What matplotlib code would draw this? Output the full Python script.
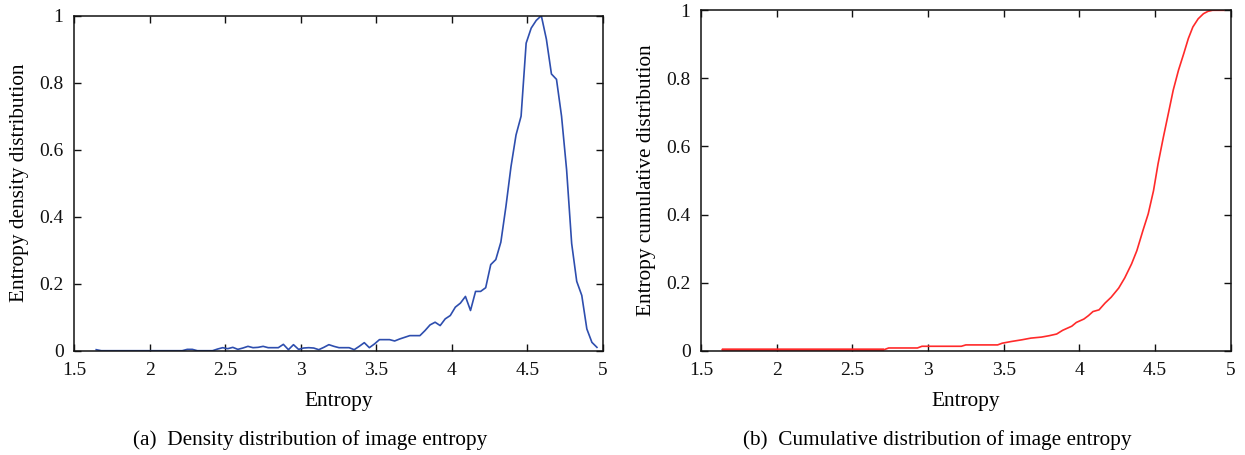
import numpy as np
import matplotlib
matplotlib.use("Agg")
import matplotlib.pyplot as plt
from matplotlib.ticker import FormatStrFormatter, MultipleLocator

plt.rcParams['font.family'] = ['Liberation Serif', 'DejaVu Serif']

# ---- data ----
dens_x_start, dens_x_end, dens_n = 1.647, 4.96, 100
density = [
    0.003, 0, 0, 0, 0, 0, 0, 0, 0, 0,
    0, 0, 0, 0, 0, 0, 0, 0, 0.004, 0.004,
    0, 0, 0, 0, 0.005, 0.009, 0.006, 0.010, 0.004, 0.008,
    0.013, 0.009, 0.010, 0.013, 0.009, 0.009, 0.009, 0.019, 0.003, 0.018,
    0.004, 0.008, 0.009, 0.008, 0.003, 0.010, 0.018, 0.013, 0.009, 0.009,
    0.009, 0.003, 0.013, 0.024, 0.009, 0.020, 0.033, 0.033, 0.033, 0.029,
    0.035, 0.040, 0.045, 0.045, 0.045, 0.060, 0.077, 0.085, 0.075, 0.095,
    0.105, 0.130, 0.142, 0.162, 0.120, 0.177, 0.177, 0.188, 0.257, 0.272,
    0.324, 0.430, 0.549, 0.644, 0.700, 0.918, 0.963, 0.986, 1.000, 0.930,
    0.826, 0.810, 0.700, 0.540, 0.320, 0.207, 0.165, 0.065, 0.025, 0.010,
]
density_x = np.linspace(dens_x_start, dens_x_end, dens_n)

cum_x = [1.64, 2.71, 2.74, 2.93, 2.96, 3.22, 3.25, 3.46, 3.49, 3.55, 3.62, 3.68,
         3.75, 3.80, 3.85, 3.89, 3.95, 3.98, 4.03, 4.06, 4.09, 4.13, 4.17, 4.21,
         4.26, 4.30, 4.345, 4.38, 4.42, 4.455, 4.49, 4.52, 4.555, 4.59, 4.62,
         4.655, 4.69, 4.72, 4.75, 4.785, 4.82, 4.85, 4.88, 4.955]
cum_y = [0.003, 0.003, 0.008, 0.008, 0.013, 0.013, 0.017, 0.017, 0.022, 0.027,
         0.032, 0.037, 0.040, 0.044, 0.049, 0.060, 0.072, 0.083, 0.093, 0.103,
         0.115, 0.120, 0.140, 0.157, 0.184, 0.214, 0.255, 0.294, 0.353, 0.402,
         0.470, 0.549, 0.627, 0.701, 0.765, 0.824, 0.873, 0.917, 0.951, 0.975,
         0.990, 0.997, 1.000, 1.000]

xlabel = "Entropy"
ylabels = ["Entropy density distribution", "Entropy cumulative distribution"]
captions = ["(a)  Density distribution of image entropy",
            "(b)  Cumulative distribution of image entropy"]

# ---- figure ----
W, H = 1245, 455
fig = plt.figure(figsize=(W / 100, H / 100), dpi=100)

def px_axes(l, t, r, b):
    return fig.add_axes([l / W, 1 - b / H, (r - l) / W, (b - t) / H])

ax1 = px_axes(74, 15.7, 603, 350.7)
ax2 = px_axes(701, 10.3, 1230.7, 350.7)

ax1.plot(density_x, density, color='#2E4EAE', lw=1.2)
ax2.plot(cum_x, cum_y, color='#FF2A2A', lw=1.2)
ax2.plot(cum_x[:2], cum_y[:2], color='#FF2A2A', lw=2.6, alpha=0.75, solid_capstyle='butt')

for ax, yl in zip((ax1, ax2), ylabels):
    ax.set_xlim(1.5, 5)
    ax.set_ylim(0, 1)
    ax.xaxis.set_major_locator(MultipleLocator(0.5))
    ax.yaxis.set_major_locator(MultipleLocator(0.2))
    ax.xaxis.set_major_formatter(FormatStrFormatter('%g'))
    ax.yaxis.set_major_formatter(FormatStrFormatter('%g'))
    ax.tick_params(direction='in', top=True, right=True, length=5, width=1,
                   labelsize=14, colors='#111111')
    ax.tick_params(axis='x', pad=8)
    ax.tick_params(axis='y', pad=7.5)
    for s in ax.spines.values():
        s.set_linewidth(1.1)
        s.set_color('#111111')
    ax.set_xlabel(xlabel, fontsize=15.3, labelpad=9.5)
    ax.set_ylabel(yl, fontsize=15.3, labelpad=7)

fig.text(133 / W, 1 - 440 / H, captions[0], ha='left', va='center', fontsize=15.3)
fig.text(743 / W, 1 - 440 / H, captions[1], ha='left', va='center', fontsize=15.3)

fig.savefig("out.png", dpi=100)
